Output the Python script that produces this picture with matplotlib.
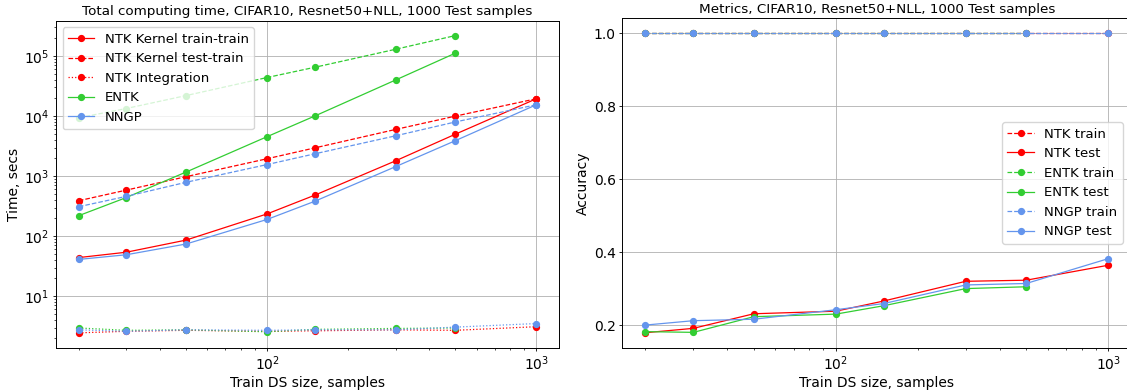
import numpy as np
import matplotlib
matplotlib.use("Agg")
import matplotlib.pyplot as plt

# train dataset sizes
sizes = [20, 30, 50, 100, 150, 300, 500, 1000]
sizes_entk = sizes[:7]  # ENTK was not run for 1000

# total computing time, secs
ntk_train_train = [44, 54, 86, 235, 480, 1800, 5000, 19500]
ntk_test_train = [390, 585, 980, 1950, 2950, 6000, 10000, 19500]
ntk_integration = [2.45, 2.6, 2.7, 2.6, 2.65, 2.75, 2.7, 3.1]
entk_train_train = [220, 440, 1170, 4550, 10000, 40000, 112000]
entk_test_train = [9400, 13400, 22000, 44000, 65000, 130000, 220000]
entk_integration = [2.95, 2.7, 2.75, 2.55, 2.8, 2.9, 2.95]
nngp_train_train = [41, 49, 74, 190, 380, 1440, 3900, 15500]
nngp_test_train = [310, 460, 790, 1560, 2350, 4700, 8000, 15500]
nngp_integration = [2.75, 2.6, 2.75, 2.7, 2.75, 2.75, 3.05, 3.5]

# accuracy
ntk_train_acc = [1.0] * 8
ntk_test_acc = [0.179, 0.191, 0.231, 0.238, 0.266, 0.320, 0.323, 0.364]
entk_train_acc = [1.0] * 7
entk_test_acc = [0.182, 0.180, 0.223, 0.230, 0.253, 0.300, 0.305]
nngp_train_acc = [1.0] * 8
nngp_test_acc = [0.200, 0.212, 0.216, 0.242, 0.259, 0.310, 0.314, 0.382]

RED = 'red'
GREEN = 'limegreen'
BLUE = 'cornflowerblue'
kw = dict(marker='o', markersize=4.2, linewidth=0.9)

# the original looks like a bigger figure shrunk down, so ticks/pads are small
plt.rcParams.update({
    'xtick.major.size': 2.4, 'ytick.major.size': 2.4,
    'xtick.minor.size': 1.4, 'ytick.minor.size': 1.4,
    'xtick.major.pad': 2.4, 'ytick.major.pad': 2.4,
    'xtick.minor.pad': 2.4, 'ytick.minor.pad': 2.4,
    'axes.labelpad': 2.5, 'axes.titlepad': 4,
    'grid.linewidth': 0.6, 'axes.linewidth': 0.7,
    'xtick.major.width': 0.6, 'ytick.major.width': 0.6,
    'xtick.minor.width': 0.5, 'ytick.minor.width': 0.5,
})

fig = plt.figure(figsize=(11.27, 3.9), dpi=100)
ax1 = fig.add_axes([56/1127, 1 - 347.7/390, 503.3/1127, 327/390])
ax2 = fig.add_axes([622.3/1127, 1 - 347.7/390, 509/1127, 329.4/390])  # right edge falls off the figure

# left: computing time
ax1.plot(sizes, ntk_train_train, '-', color=RED, label='NTK Kernel train-train', **kw)
ax1.plot(sizes, ntk_test_train, '--', color=RED, label='NTK Kernel test-train', **kw)
ax1.plot(sizes, ntk_integration, ':', color=RED, label='NTK Integration', **kw)
ax1.plot(sizes_entk, entk_train_train, '-', color=GREEN, label='ENTK', **kw)
ax1.plot(sizes_entk, entk_test_train, '--', color=GREEN, **kw)
ax1.plot(sizes_entk, entk_integration, ':', color=GREEN, **kw)
ax1.plot(sizes, nngp_train_train, '-', color=BLUE, label='NNGP', **kw)
ax1.plot(sizes, nngp_test_train, '--', color=BLUE, **kw)
ax1.plot(sizes, nngp_integration, ':', color=BLUE, **kw)
ax1.set_xscale('log')
ax1.set_yscale('log')
ax1.grid(True)
ax1.set_title('Total computing time, CIFAR10, Resnet50+NLL, 1000 Test samples', fontsize=9.7)
ax1.set_xlabel('Train DS size, samples', fontsize=10)
ax1.set_ylabel('Time, secs', fontsize=10)
ax1.legend(loc='upper left', fontsize=9.5)

# right: accuracy
ax2.plot(sizes, ntk_train_acc, '--', color=RED, label='NTK train', **kw)
ax2.plot(sizes, ntk_test_acc, '-', color=RED, label='NTK test', **kw)
ax2.plot(sizes_entk, entk_train_acc, '--', color=GREEN, label='ENTK train', **kw)
ax2.plot(sizes_entk, entk_test_acc, '-', color=GREEN, label='ENTK test', **kw)
ax2.plot(sizes, nngp_train_acc, '--', color=BLUE, label='NNGP train', **kw)
ax2.plot(sizes, nngp_test_acc, '-', color=BLUE, label='NNGP test', **kw)
ax2.set_xscale('log')
ax2.grid(True)
ax2.set_title('Metrics, CIFAR10, Resnet50+NLL, 1000 Test samples', fontsize=9.7)
ax2.set_xlabel('Train DS size, samples', fontsize=10)
ax2.set_ylabel('Accuracy', fontsize=10)
ax2.legend(loc='center right', fontsize=9.5, bbox_to_anchor=(0.996, 0.5))

for ax in (ax1, ax2):
    ax.tick_params(labelsize=10)

fig.savefig('out.png', dpi=100)
